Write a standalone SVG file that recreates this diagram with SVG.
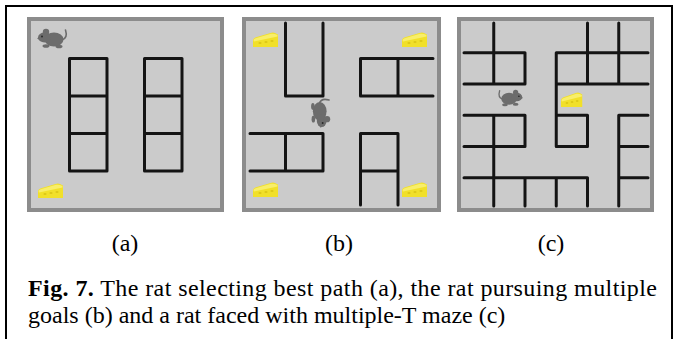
<svg xmlns="http://www.w3.org/2000/svg" width="677" height="339" viewBox="0 0 677 339">
  <style>
    .frame { fill: #ffffff; stroke: #000000; stroke-width: 2; }
    .edge { fill: #8c8c8c; }
    .floor { fill: #cbcbcb; }
    .wall { fill: none; stroke: #141414; stroke-width: 3; stroke-linecap: round; }
    .label { font-family: "Liberation Serif", "Times New Roman", serif; font-size: 24px; fill: #000000; }
    .rat { fill: #6c6c6c; }
    .rat-line { fill: none; stroke: #6c6c6c; stroke-width: 1.6; stroke-linecap: round; }
  </style>
  <defs>
    <!-- rat silhouette, facing left, about 30 x 21 -->
    <g id="rat">
      <path class="rat-line" d="M25 12 Q31 10 28.5 2"/>
      <ellipse class="rat" cx="17" cy="11.5" rx="9.5" ry="7"/>
      <ellipse class="rat" cx="7.5" cy="9.5" rx="6.5" ry="5"/>
      <path class="rat" d="M3 8 L0 10.5 L3.5 12 Z"/>
      <circle class="rat" cx="9" cy="4" r="3.2"/>
      <ellipse class="rat" cx="9" cy="18" rx="3.5" ry="1.8"/>
      <ellipse class="rat" cx="22" cy="18.5" rx="3.5" ry="1.8"/>
      <circle cx="5" cy="8.5" r="1" fill="#2a2a2a"/>
    </g>
    <!-- cheese wedge, about 25 x 15 -->
    <g id="cheese">
      <path d="M0 15 L0 8 Q0.5 6 3 5.3 L17.5 1 Q20 0.2 22 1 L25 2.5 L25 15 Z" fill="#f1e02a"/>
      <path d="M0.5 8 Q1 6.5 3.5 6 L18 1.8 Q21 1.2 24.5 3 L24.5 4.5 L1 9.5 Z" fill="#f8ee6a"/>
      <ellipse cx="7" cy="11" rx="1.6" ry="1" fill="#dcc818"/>
      <ellipse cx="13" cy="10" rx="1.6" ry="1" fill="#dcc818"/>
      <ellipse cx="19" cy="9" rx="1.6" ry="1" fill="#dcc818"/>
    </g>
  </defs>

  <!-- outer frame, continuing past the bottom edge -->
  <rect class="frame" x="6" y="6" width="666" height="400"/>

  <!-- (a) two stacks of three boxes -->
  <g id="panel-a">
    <rect class="edge" x="27" y="17" width="197" height="195"/>
    <rect class="floor" x="31" y="21" width="189" height="187"/>
    <path class="wall" d="M69.5 58.5V96M69.5 96V133.5M69.5 133.5V171
      M107 58.5V96M107 96V133.5M107 133.5V171
      M69.5 58.5H107M69.5 96H107M69.5 133.5H107M69.5 171H107
      M144.5 58.5V96M144.5 96V133.5M144.5 133.5V171
      M182 58.5V96M182 96V133.5M182 133.5V171
      M144.5 58.5H182M144.5 96H182M144.5 133.5H182M144.5 171H182"/>
    <use href="#rat" x="37" y="28"/>
    <use href="#cheese" x="38" y="183"/>
  </g>

  <!-- (b) four goals around a central rat -->
  <g id="panel-b">
    <rect class="edge" x="242" y="17" width="199" height="195"/>
    <rect class="floor" x="246" y="21" width="191" height="187"/>
    <path class="wall" d="M285.5 23V58.5M285.5 58.5V96M323 23V58.5M323 58.5V96M285.5 96H323
      M360.5 58.5H398M398 58.5H433M360.5 96H398M398 96H433M360.5 58.5V96M398 58.5V96
      M250 133.5H285.5M285.5 133.5H323M250 171H285.5M285.5 171H323M285.5 133.5V171M323 133.5V171
      M360.5 133.5V171M360.5 171V205M398 133.5V171M398 171V205M360.5 133.5H398M360.5 171H398"/>
    <use href="#cheese" x="253" y="32"/>
    <use href="#cheese" x="402" y="32"/>
    <use href="#cheese" x="253" y="182"/>
    <use href="#cheese" x="402" y="182"/>
    <use href="#rat" transform="translate(331 128) rotate(-90) scale(1 -1) scale(0.98)"/>
  </g>

  <!-- (c) multiple-T maze -->
  <g id="panel-c">
    <rect class="edge" x="457" y="17" width="197" height="195"/>
    <rect class="floor" x="461" y="21" width="189" height="187"/>
    <path class="wall" d="M493.75 23V52.75M493.75 52.75V84
      M464 52.75H493.75M493.75 52.75H525M464 84H493.75M493.75 84H525M525 52.75V84
      M587.5 23V52.75M587.5 52.75V84M618.75 23V52.75M618.75 52.75V84
      M556.25 52.75H587.5M587.5 52.75H618.75M618.75 52.75H648
      M556.25 84H587.5M587.5 84H618.75M618.75 84H648
      M556.25 52.75V84M556.25 84V115.25
      M464 115.25H493.75M493.75 115.25H525M464 146.5H493.75M493.75 146.5H525M525 115.25V146.5
      M493.75 115.25V146.5M493.75 146.5V177.75M493.75 177.75V206
      M556.25 115.25H587.5M556.25 146.5H587.5M556.25 115.25V146.5M587.5 115.25V146.5
      M618.75 115.25V146.5M618.75 146.5V177.75M618.75 177.75V206
      M618.75 115.25H648M618.75 146.5H648M618.75 177.75H648
      M464 177.75H493.75M493.75 177.75H525M525 177.75H556.25M556.25 177.75H587.5
      M525 177.75V206M556.25 177.75V206M587.5 177.75V206"/>
    <use href="#rat" transform="translate(523 89) scale(-0.82 0.85)"/>
    <use href="#cheese" transform="translate(561 92) scale(0.85 1)"/>
  </g>

  <!-- panel labels -->
  <g id="labels">
    <text class="label" x="125" y="251" text-anchor="middle">(a)</text>
    <text class="label" x="339" y="251" text-anchor="middle">(b)</text>
    <text class="label" x="551" y="251" text-anchor="middle">(c)</text>
  </g>

  <!-- caption -->
  <g id="caption">
    <text class="label" x="28" y="296" textLength="629" lengthAdjust="spacing"><tspan font-weight="bold">Fig. 7.</tspan> The rat selecting best path (a), the rat pursuing multiple</text>
    <text class="label" x="28" y="323">goals (b) and a rat faced with multiple-T maze (c)</text>
  </g>
</svg>
